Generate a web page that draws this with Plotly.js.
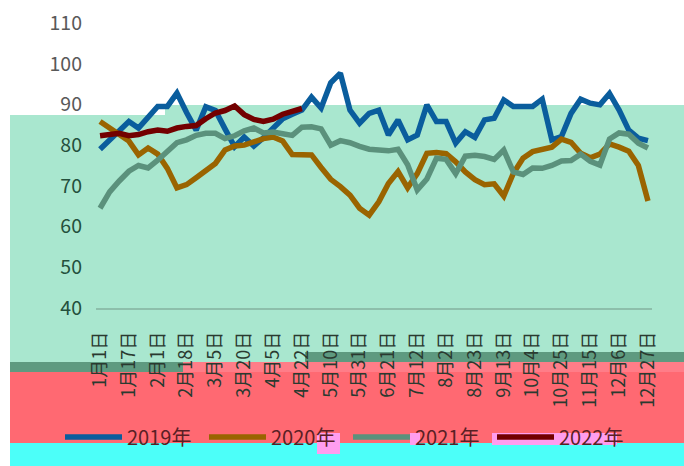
<!DOCTYPE html>
<html>
<head>
<meta charset="utf-8">
<script src="https://cdn.plot.ly/plotly-3.0.1.min.js"></script>
<style>
html,body{margin:0;padding:0;background:#fff;}
#chart{width:684px;height:466px;}
</style>
</head>
<body>
<div id="chart"></div>
<script>
// ---- data ----
const xLabels = ["1月1日","1月17日","2月1日","2月18日","3月5日","3月20日","4月5日","4月22日","5月10日","5月31日",
  "6月21日","7月12日","8月2日","8月23日","9月13日","10月4日","10月25日","11月15日","12月6日","12月27日"];
const labelStep = 3;
const seriesNames = ["2019年","2020年","2021年","2022年"];
const v2019 = [79,81.2,83.5,85.8,84.2,87,89.5,89.5,92.8,88,
  83.7,89.4,88.5,84,79.6,82,79.8,81.8,84,86.5,
  87.6,88.6,91.8,89.1,95.3,97.7,88.6,85.4,87.8,88.6,
  82.5,86.2,81.3,82.5,89.9,85.8,85.8,80.5,83.3,81.9,
  86.2,86.6,91.1,89.5,89.5,89.5,91.3,81.3,82.1,87.8,
  91.3,90.3,89.9,92.7,88.6,83.7,81.7,81.1];
const v2020 = [85.8,84.3,82.5,81,77.6,79.3,77.8,74.3,69.5,70.3,
  72,73.9,75.5,78.8,79.8,80,80.9,81.6,82,81,
  77.7,77.6,77.6,74.5,71.6,69.8,67.7,64.5,62.8,66.1,
  70.6,73.5,69.5,73,78,78.2,77.9,75.9,73.4,71.5,
  70.3,70.5,67.5,73.1,76.8,78.4,78.9,79.5,81.5,80.7,
  78,76.9,77.8,80.3,79.5,78.5,75,66.3];
const v2021 = [64.5,68.5,71.2,73.6,75,74.4,76.3,78.6,80.6,81.3,
  82.4,82.9,82.9,81.6,82.3,83.5,84.2,83,83.2,82.8,
  82.4,84.4,84.5,84,80,81.1,80.6,79.7,79,78.8,
  78.6,79,75.2,69,71.7,76.8,76.5,73,77.3,77.5,
  77.2,76.5,78.8,73.4,72.8,74.4,74.3,75,76.1,76.2,
  77.8,76,75.1,81.5,83,82.7,80.5,79.3];
const v2022 = [82.3,82.5,82.9,82.3,82.6,83.3,83.7,83.4,84.2,84.6,
  84.8,86.5,87.9,88.5,89.6,87.5,86.3,85.8,86.4,87.6,
  88.4,89];
const yTicks = [40,50,60,70,80,90,100,110];

// ---- styling ----
const lineColors = ["#0a5d9d","#9a6400","#5b917c","#730000"];
const allSeries = [v2019, v2020, v2021, v2022];
const traces = allSeries.map((vals, k) => ({
  type: "scatter",
  mode: "lines",
  name: seriesNames[k],
  x: vals.map((_, i) => i),
  y: vals,
  line: {color: lineColors[k], width: 5.5},
  hoverinfo: "skip"
}));

// pixel -> paper helpers for the decorative background bands
const L = 96, R = 32, T = 23, B = 158, W = 684, H = 466;
const pw = W - L - R, ph = H - T - B;
const px = v => (v - L) / pw;
const py = v => (H - B - v) / ph;
function rect(x0, y0, x1, y1, color) {
  return {type: "rect", xref: "paper", yref: "paper", layer: "below",
    x0: px(x0), x1: px(x1), y0: py(y0), y1: py(y1),
    fillcolor: color, line: {width: 0}};
}
const shapes = [
  rect(10, 115, 684, 362, "#a9e7cf"),
  rect(165, 105, 684, 115, "#a9e7cf"),
  rect(10, 362, 183, 372, "#5e9a80"),
  rect(305, 352, 684, 362, "#5e9a80"),
  rect(183, 362, 684, 372, "#ff7d88"),
  rect(10, 372, 684, 443, "#ff6972"),
  rect(10, 443, 684, 466, "#4cfff9"),
  rect(317, 433, 340, 454, "#ff9def"),
  rect(410, 433, 420, 445, "#ff9def"),
  rect(492, 433, 617, 445, "#ff9def")
];

const yTickText = yTicks.map(v => {
  const c = v >= 90 ? "#595959" : "#24503c";
  return '<span style="color:' + c + '">' + v + '</span>';
});

const layout = {
  width: W, height: H,
  margin: {l: L, r: R, t: T, b: B, pad: 0, autoexpand: false},
  paper_bgcolor: "#ffffff",
  plot_bgcolor: "rgba(0,0,0,0)",
  font: {family: '"Noto Sans CJK SC", "Noto Sans", sans-serif', size: 18, color: "#595959"},
  showlegend: true,
  xaxis: {
    type: "linear",
    range: [-0.42, 57.42],
    tickvals: xLabels.map((_, k) => k * labelStep),
    ticktext: xLabels,
    tickangle: -90,
    showgrid: false,
    zeroline: false,
    showline: true,
    linecolor: "#8dbfab",
    linewidth: 1.5,
    ticks: "",
    ticklabelstandoff: 15,
    tickfont: {size: 18, color: "#2a3a30"},
    fixedrange: true
  },
  yaxis: {
    range: [40, 110],
    tickvals: yTicks,
    ticktext: yTickText,
    showgrid: false,
    zeroline: false,
    showline: false,
    ticks: "",
    ticklabelstandoff: 13,
    tickfont: {size: 19.5},
    fixedrange: true
  },
  legend: {
    orientation: "h",
    x: px(60), xanchor: "left",
    y: py(437), yanchor: "middle",
    itemwidth: 57,
    entrywidth: 72,
    entrywidthmode: "pixels",
    bgcolor: "rgba(0,0,0,0)",
    font: {size: 20, color: "#5a1f25"},
    traceorder: "normal"
  },
  shapes: shapes
};

Plotly.newPlot("chart", traces, layout, {displayModeBar: false, staticPlot: true});
</script>
</body>
</html>
